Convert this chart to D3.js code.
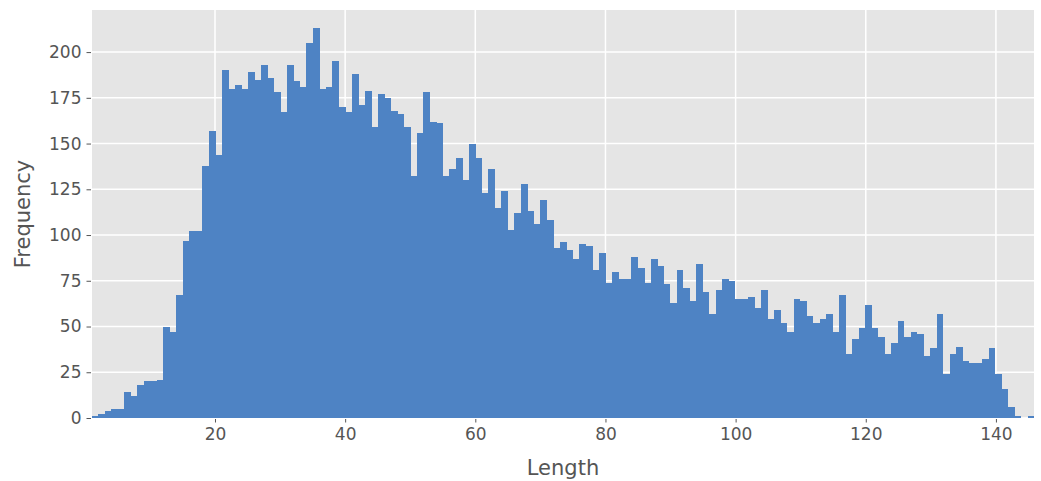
<!DOCTYPE html>
<html>
<head>
<meta charset="utf-8">
<script src="https://cdn.jsdelivr.net/npm/d3@7"></script>
<style>
  html, body { margin: 0; padding: 0; background: #fff; }
  svg { display: block; font-family: "DejaVu Sans", sans-serif; }
</style>
</head>
<body>
<svg id="chart" width="1041" height="481"></svg>
<script>
// Histogram bin range (Length) and counts per bin
const binStart = 1.1;
const binEnd = 145.85;
const counts = [
  1, 2, 4, 5, 5, 14, 12, 18, 20, 20,
  21, 50, 47, 67, 97, 102, 102, 138, 157, 144,
  190, 180, 182, 180, 189, 185, 193, 186, 178, 167,
  193, 184, 181, 205, 213, 180, 181, 195, 170, 167,
  188, 171, 179, 159, 177, 175, 168, 166, 159, 132,
  156, 178, 162, 161, 132, 136, 142, 130, 150, 142,
  123, 136, 115, 124, 103, 112, 128, 113, 106, 119,
  108, 93, 96, 92, 87, 95, 94, 81, 90, 74,
  80, 76, 76, 88, 82, 74, 87, 83, 73, 63,
  81, 71, 64, 84, 69, 57, 70, 76, 75, 65,
  65, 66, 60, 70, 54, 59, 52, 47, 65, 64,
  56, 52, 54, 57, 47, 67, 35, 43, 49, 62,
  49, 44, 35, 41, 53, 44, 47, 46, 34, 38,
  57, 24, 35, 39, 31, 30, 30, 32, 38, 24,
  16, 6, 1, 0, 1
];
const xTicks = [20, 40, 60, 80, 100, 120, 140];
const yTicks = [0, 25, 50, 75, 100, 125, 150, 175, 200];
const xLabel = "Length";
const yLabel = "Frequency";

const margin = { left: 92, right: 7, top: 10, bottom: 63 };
const W = 1041, H = 481;
const svg = d3.select("#chart");
const x = d3.scaleLinear().domain([binStart, binEnd]).range([margin.left, W - margin.right]);
const y = d3.scaleLinear().domain([0, 223]).range([H - margin.bottom, margin.top]);

const binW = (binEnd - binStart) / counts.length;
const bins = counts.map((c, i) => ({ x0: binStart + i * binW, x1: binStart + (i + 1) * binW, c }));

// background
svg.append("rect")
  .attr("x", margin.left).attr("y", margin.top)
  .attr("width", x.range()[1] - x.range()[0])
  .attr("height", y.range()[0] - y.range()[1])
  .attr("fill", "#e5e5e5");

// grid
const grid = svg.append("g");
grid.selectAll("line.v").data(xTicks).join("line")
  .attr("x1", d => x(d)).attr("x2", d => x(d))
  .attr("y1", y.range()[1]).attr("y2", y.range()[0])
  .attr("stroke", "#fff").attr("stroke-width", 1.5);
grid.selectAll("line.h").data(yTicks).join("line")
  .attr("y1", d => y(d)).attr("y2", d => y(d))
  .attr("x1", x.range()[0]).attr("x2", x.range()[1])
  .attr("stroke", "#fff").attr("stroke-width", 1.5);

// bars
svg.append("g").attr("shape-rendering", "crispEdges")
  .selectAll("rect").data(bins.filter(b => b.c > 0)).join("rect")
  .attr("x", d => x(d.x0))
  .attr("width", d => x(d.x1) - x(d.x0) + 0.3)
  .attr("y", d => y(d.c))
  .attr("height", d => y(0) - y(d.c))
  .attr("fill", "#4e83c4");

// axes
const xAxis = d3.axisBottom(x).tickValues(xTicks).tickSize(4.5).tickPadding(5).tickFormat(d3.format("d"));
const yAxis = d3.axisLeft(y).tickValues(yTicks).tickSize(4.5).tickPadding(5).tickFormat(d3.format("d"));

const gx = svg.append("g").attr("transform", `translate(0,${y(0)})`).call(xAxis);
const gy = svg.append("g").attr("transform", `translate(${margin.left - 1},0)`).call(yAxis);
[gx, gy].forEach(g => {
  g.select(".domain").remove();
  g.selectAll(".tick line").attr("stroke", "#555").attr("stroke-width", 1);
  g.selectAll(".tick text").attr("fill", "#555").attr("font-size", 17)
    .attr("font-family", "DejaVu Sans");
});
gx.selectAll(".tick line").attr("y1", 1);

svg.append("text")
  .attr("x", (x.range()[0] + x.range()[1]) / 2)
  .attr("y", 475)
  .attr("text-anchor", "middle")
  .attr("font-size", 21)
  .attr("fill", "#555")
  .text(xLabel);

svg.append("text")
  .attr("transform", `translate(30,${(y.range()[0] + y.range()[1]) / 2}) rotate(-90)`)
  .attr("text-anchor", "middle")
  .attr("font-size", 21)
  .attr("fill", "#555")
  .text(yLabel);
</script>
</body>
</html>
